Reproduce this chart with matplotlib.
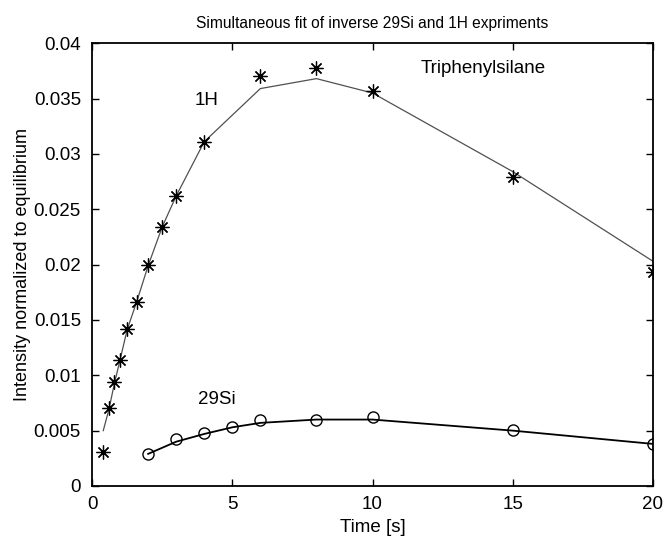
import matplotlib
matplotlib.use("Agg")
import matplotlib.pyplot as plt

plt.rcParams['font.family'] = ['Liberation Sans', 'DejaVu Sans']

# 1H measured points and fitted curve
h_time = [0.4, 0.6, 0.8, 1.0, 1.25, 1.6, 2.0, 2.5, 3.0, 4.0, 6.0, 8.0, 10.0, 15.0, 20.0]
h_meas = [0.0031, 0.0070, 0.0094, 0.0114, 0.0142, 0.0166, 0.0200, 0.0234, 0.0262,
          0.0311, 0.0370, 0.0378, 0.0357, 0.0279, 0.0193]
h_fit = [0.0050, 0.0069, 0.0093, 0.0114, 0.0141, 0.0167, 0.0199, 0.0234, 0.0262,
         0.0311, 0.0359, 0.0368, 0.0355, 0.0284, 0.0203]

# 29Si measured points and fitted curve
si_time = [2.0, 3.0, 4.0, 5.0, 6.0, 8.0, 10.0, 15.0, 20.0]
si_meas = [0.0029, 0.0042, 0.0048, 0.0053, 0.0060, 0.0060, 0.0062, 0.0051, 0.0038]
si_fit = [0.0029, 0.0040, 0.0047, 0.0053, 0.0057, 0.0060, 0.0060, 0.0050, 0.0038]

x_ticks = [0, 5, 10, 15, 20]
y_ticks = [0, 0.005, 0.01, 0.015, 0.02, 0.025, 0.03, 0.035, 0.04]
y_tick_labels = ['0', '0.005', '0.01', '0.015', '0.02', '0.025', '0.03', '0.035', '0.04']

fig = plt.figure(figsize=(6.67, 5.38), dpi=100)
ax = fig.add_axes([0.138, 0.0967, 0.841, 0.823])

ax.plot(h_time, h_fit, color='#505050', linewidth=0.9)
ax.plot(h_time, h_meas, linestyle='none', marker=(8, 2, 0), markersize=10,
        markeredgewidth=0.9, color='black')
ax.plot(si_time, si_fit, color='black', linewidth=1.3)
ax.plot(si_time, si_meas, linestyle='none', marker='o', markersize=8,
        markerfacecolor='none', markeredgecolor='black', markeredgewidth=1.0)

ax.set_xlim(0, 20)
ax.set_ylim(0, 0.04)
ax.set_xticks(x_ticks)
ax.set_xticklabels([str(t) for t in x_ticks])
ax.set_yticks(y_ticks)
ax.set_yticklabels(y_tick_labels)
ax.tick_params(direction='in', top=True, right=True, length=5, width=1,
               labelsize=13.5)
ax.tick_params(axis='x', pad=7.5)
ax.tick_params(axis='y', pad=8)
for s in ax.spines.values():
    s.set_linewidth(1.3)

ax.text(4.1, 0.0348, '1H', fontsize=13.5, ha='center', va='center')
ax.text(4.46, 0.0078, '29Si', fontsize=13.5, ha='center', va='center')
ax.text(13.96, 0.0377, 'Triphenylsilane', fontsize=13.5, ha='center', va='center')

ax.set_title('Simultaneous fit of inverse 29Si and 1H expriments',
             fontsize=11.2, pad=11)
ax.set_xlabel('Time [s]', fontsize=13.5, labelpad=4)
ax.set_ylabel('Intensity normalized to equilibrium', fontsize=13, labelpad=2)

fig.savefig('out.png', dpi=100)
